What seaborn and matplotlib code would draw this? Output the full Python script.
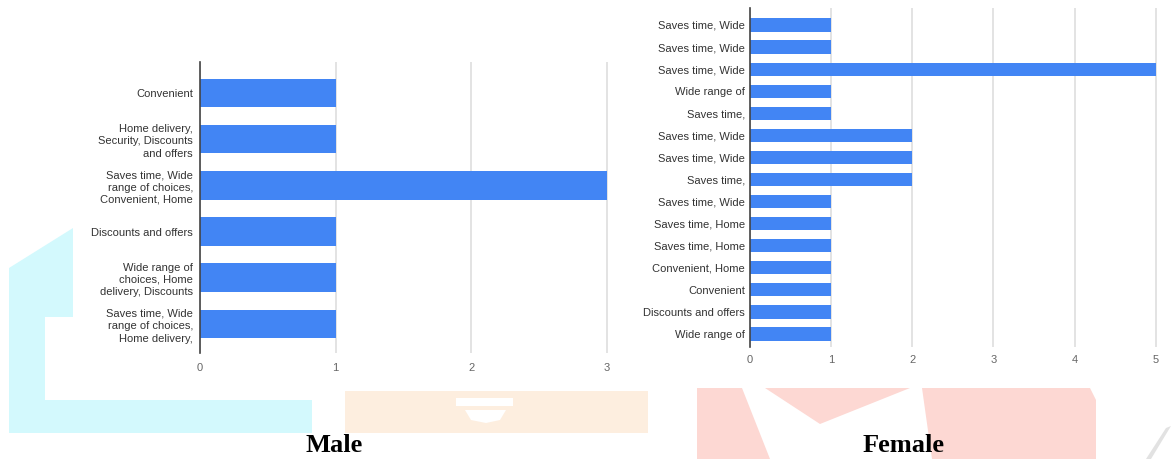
import matplotlib
matplotlib.use("Agg")
import matplotlib.pyplot as plt
import pandas as pd
import seaborn as sns
from matplotlib.patches import Polygon

male_labels = [
    "Convenient",
    "Home delivery,\nSecurity, Discounts\nand offers",
    "Saves time, Wide\nrange of choices,\nConvenient, Home",
    "Discounts and offers",
    "Wide range of\nchoices, Home\ndelivery, Discounts",
    "Saves time, Wide\nrange of choices,\nHome delivery,",
]
male_counts = [1, 1, 3, 1, 1, 1]

female_labels = [
    "Saves time, Wide",
    "Saves time, Wide",
    "Saves time, Wide",
    "Wide range of",
    "Saves time,",
    "Saves time, Wide",
    "Saves time, Wide",
    "Saves time,",
    "Saves time, Wide",
    "Saves time, Home",
    "Saves time, Home",
    "Convenient, Home",
    "Convenient",
    "Discounts and offers",
    "Wide range of",
]
female_counts = [1, 1, 5, 1, 1, 2, 2, 2, 1, 1, 1, 1, 1, 1, 1]

BLUE = "#4285f4"

sns.set_theme(style="white")
plt.rcParams["font.family"] = ["Liberation Sans", "DejaVu Sans"]

W, H = 1171, 459
fig = plt.figure(figsize=(W / 100, H / 100), dpi=100)


def px(points):
    return [(x / W, 1 - y / H) for x, y in points]


def fig_poly(points, color):
    fig.patches.append(Polygon(px(points), closed=True, transform=fig.transFigure,
                               facecolor=color, edgecolor="none", zorder=-5))


# faint watermark logo behind the charts
fig_poly([(9, 268), (73, 228), (73, 317), (45, 317), (45, 400), (312, 400),
          (312, 433), (9, 433)], "#d3f9fd")
fig_poly([(345, 391), (648, 391), (648, 433), (345, 433)], "#fdeedf")
fig_poly([(456, 398), (513, 398), (513, 406), (456, 406)], "white")
fig_poly([(465, 410), (506, 410), (500, 420), (486, 423), (471, 420)], "white")
fig_poly([(697, 388), (742, 388), (770, 459), (697, 459)], "#fdd8d3")
fig_poly([(765, 388), (910, 388), (820, 424)], "#fdd8d3")
fig_poly([(922, 388), (1090, 388), (1096, 400), (1096, 459), (932, 459)], "#fdd8d3")
fig_poly([(1166, 428), (1171, 426), (1151, 459), (1146, 459)], "#e2e2e2")


def draw(ax, labels, counts, xmax, bar_w, ylims, label_pad, xpad):
    df = pd.DataFrame({"pos": [str(i) for i in range(len(labels))], "count": counts})
    sns.barplot(data=df, x="count", y="pos", orient="h", color=BLUE,
                saturation=1, width=bar_w, linewidth=0, ax=ax)
    ax.set_yticks(range(len(labels)))
    ax.set_yticklabels(labels, fontsize=8, color="#333333", linespacing=1.3)
    ax.set_ylim(*ylims)
    ax.set_xlim(0, xmax * 1.003)
    ax.set_xticks(range(xmax + 1))
    ax.tick_params(axis="x", labelsize=8, colors="#666666", length=0, pad=xpad)
    ax.tick_params(axis="y", length=0, pad=label_pad)
    ax.set_xlabel("")
    ax.set_ylabel("")
    ax.grid(axis="x", color="#dedede", linewidth=1.2)
    ax.set_axisbelow(True)
    for s in ["top", "right", "bottom"]:
        ax.spines[s].set_visible(False)
    ax.spines["left"].set_color("#444444")
    ax.spines["left"].set_linewidth(1.2)
    ax.set_facecolor("white")


ax1 = fig.add_axes([200 / W, 1 - 353 / H, 408 / W, 291 / H])
draw(ax1, male_labels, male_counts, 3, 0.62, (5.63, -0.67), 5, 7)

ax2 = fig.add_axes([750 / W, 1 - 347 / H, 407 / W, 339 / H])
draw(ax2, female_labels, female_counts, 5, 0.6, (14.59, -0.77), 3.5, 6)

fig.text(334 / W, 1 - 445 / H, "Male", ha="center", va="center", color="black",
         fontsize=19, fontweight="bold", family="Liberation Serif")
fig.text(904 / W, 1 - 445 / H, "Female", ha="center", va="center", color="black",
         fontsize=19, fontweight="bold", family="Liberation Serif")

fig.savefig("out.png", dpi=100)
